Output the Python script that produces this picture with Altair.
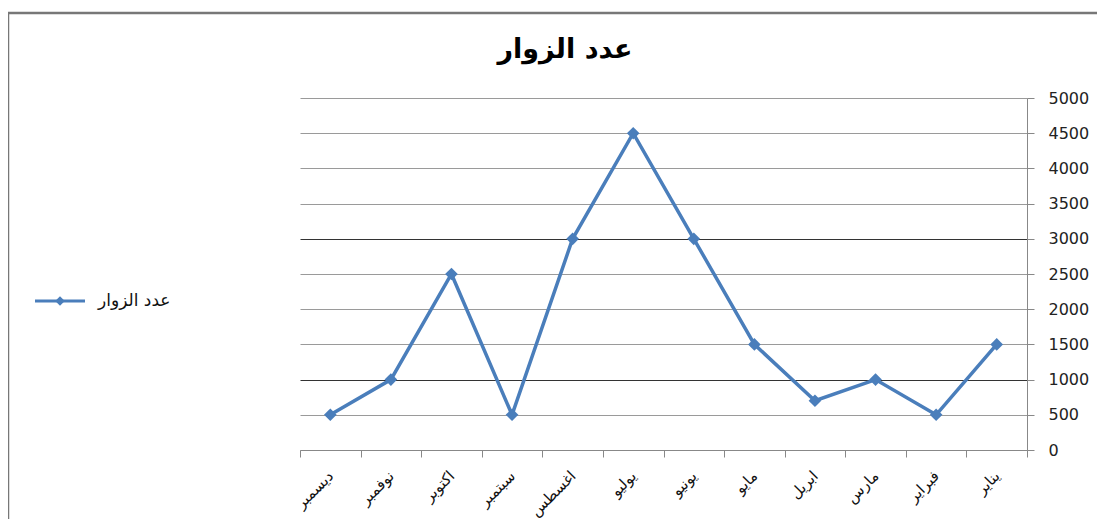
import altair as alt
import pandas as pd

months = ["يناير", "فبراير", "مارس", "ابريل", "مايو", "يونيو",
          "يوليو", "اغسطس", "سبتمبر", "اكتوبر", "نوفمبر", "ديسمبر"]
visitors = [1500, 500, 1000, 700, 1500, 3000, 4500, 3000, 500, 2500, 1000, 500]
y_ticks = [0, 500, 1000, 1500, 2000, 2500, 3000, 3500, 4000, 4500, 5000]
title_text = "عدد الزوار"
series_name = "عدد الزوار"

BLUE = "#4A7EBB"
FONT = "DejaVu Sans"

df = pd.DataFrame({"month": months, "visitors": visitors})
one = pd.DataFrame({"a": [0]})

x_enc = alt.X("month:N", sort=list(reversed(months)),
              scale=alt.Scale(paddingInner=0, paddingOuter=0),
              axis=alt.Axis(title=None, labelAngle=315, labelAlign="right",
                            labelBaseline="middle", labelFontSize=15,
                            labelFont=FONT, labelColor="#111",
                            labelPadding=16, tickBand="extent",
                            tickSize=7, tickColor="#888", domainColor="#888",
                            grid=False))
y_enc = alt.Y("visitors:Q", scale=alt.Scale(domain=[0, 5000], nice=False),
              axis=alt.Axis(title=None, orient="right", values=y_ticks, format="d",
                            labelFontSize=16, labelFont=FONT, labelColor="#222",
                            labelPadding=14, tickSize=7, tickColor="#888",
                            domainColor="#888",
                            grid=True,
                            gridColor={"condition": {"test": "datum.value == 1000 || datum.value == 3000",
                                                     "value": "#333"},
                                       "value": "#9a9a9a"},
                            gridWidth=1.2))

line = alt.Chart(df).mark_line(color=BLUE, strokeWidth=3.5).encode(x=x_enc, y=y_enc)
pts = alt.Chart(df).mark_point(shape="diamond", filled=True, color=BLUE,
                               size=160, opacity=1).encode(x=x_enc, y=y_enc)

frame = alt.Chart(one).mark_rect(fill=None, stroke="#777", strokeWidth=2.5).encode(
    x=alt.value(-292), x2=alt.value(900), y=alt.value(-85), y2=alt.value(600))

title = alt.Chart(one).mark_text(font=FONT, fontSize=27, fontWeight="bold",
                                 color="#000", align="center", baseline="middle").encode(
    x=alt.value(265), y=alt.value(-48), text=alt.value(title_text))

leg_rule = alt.Chart(one).mark_rule(color=BLUE, strokeWidth=3).encode(
    x=alt.value(-265), x2=alt.value(-215), y=alt.value(203))
leg_pt = alt.Chart(one).mark_point(shape="diamond", filled=True, color=BLUE,
                                   size=90, opacity=1).encode(
    x=alt.value(-240), y=alt.value(203))
leg_txt = alt.Chart(one).mark_text(font=FONT, fontSize=17, color="#111",
                                   align="left", baseline="middle").encode(
    x=alt.value(-202), y=alt.value(203), text=alt.value(series_name))

chart = alt.layer(frame, line, pts, title, leg_rule, leg_pt, leg_txt).properties(
    width=727, height=352,
    background="white",
    autosize=alt.AutoSizeParams(type="none"),
    padding={"left": 292, "top": 90, "right": 70, "bottom": 69},
).configure_view(strokeWidth=0)

chart.save("out.html", embed_options={"renderer": "svg", "actions": False})
